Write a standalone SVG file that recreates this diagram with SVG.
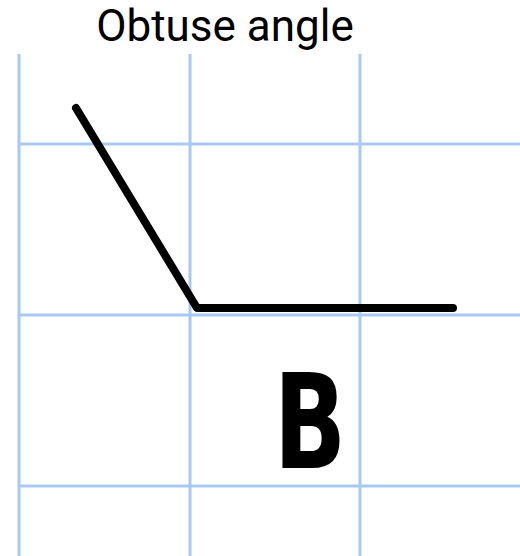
<svg xmlns="http://www.w3.org/2000/svg" width="520" height="556" viewBox="0 0 520 556">
<style>
.grid{stroke:#a9c9f2;stroke-width:3;fill:none}
.angle{stroke:#000;stroke-width:8;stroke-linecap:round;stroke-linejoin:round;fill:none}
.title{font-family:Roboto,"Liberation Sans",sans-serif;font-size:44px;fill:#000}
.lbl{font-family:"DejaVu Sans","Liberation Sans",sans-serif;font-weight:bold;font-size:132px;fill:#000}
</style>
<rect width="520" height="556" fill="#fff"/>
<g id="grid" class="grid">
<line x1="19" y1="54" x2="19" y2="556"/>
<line x1="190" y1="54" x2="190" y2="556"/>
<line x1="360" y1="54" x2="360" y2="556"/>
<line x1="19" y1="144" x2="520" y2="144"/>
<line x1="19" y1="315" x2="520" y2="315"/>
<line x1="19" y1="486" x2="520" y2="486"/>
</g>
<g id="title"><text class="title" x="225" y="41" text-anchor="middle">Obtuse angle</text></g>
<g id="angle"><polyline class="angle" points="76,108 197,308 453,308"/></g>
<g id="label"><text class="lbl" transform="translate(310,468) scale(0.72,1)" x="0" y="0" text-anchor="middle">B</text></g>
</svg>
